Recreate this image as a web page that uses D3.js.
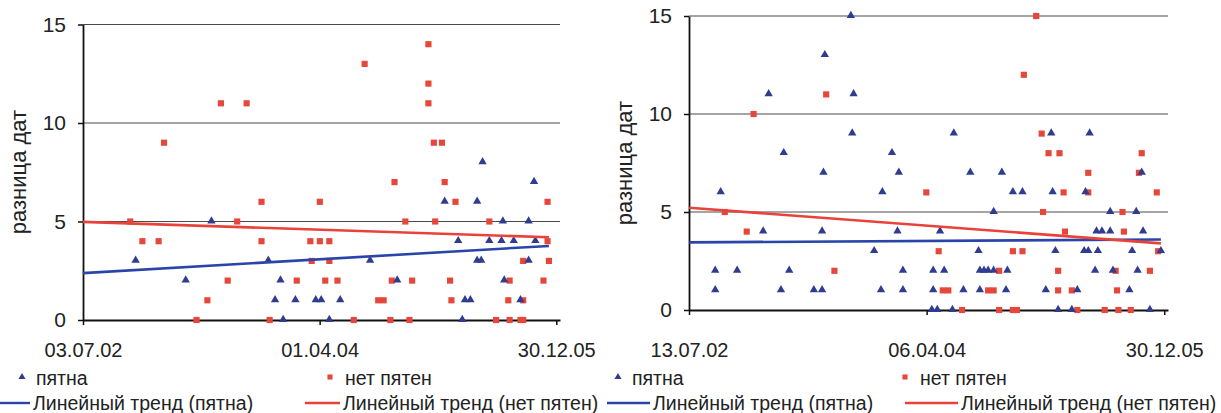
<!DOCTYPE html>
<html>
<head>
<meta charset="utf-8">
<script src="https://cdn.jsdelivr.net/npm/d3@7"></script>
<style>
  body { margin: 0; background: #fff; }
  text { font-family: "Liberation Sans", Arial, sans-serif; fill: #222; }
</style>
</head>
<body>
<svg id="chart" width="1221" height="413"></svg>
<script>
// ---- data (x = decimal year, y = difference of dates) ----
var leftTicks = ["03.07.02", "01.04.04", "30.12.05"];
var rightTicks = ["13.07.02", "06.04.04", "30.12.05"];
var yTicks = [0, 5, 10, 15];

var leftSpots = [[2002.89,3],[2003.26,2],[2003.45,5],[2003.87,3],[2003.92,1],[2003.96,2],[2003.98,0],[2004.07,1],
  [2004.22,1],[2004.26,1],[2004.32,0],[2004.40,1],[2004.62,3],[2004.82,2],[2005.17,6],[2005.27,4],[2005.30,0],
  [2005.32,1],[2005.36,1],[2005.41,3],[2005.41,6],[2005.44,3],[2005.45,8],[2005.50,4],[2005.59,4],[2005.60,5],
  [2005.61,2],[2005.68,4],[2005.73,1],[2005.79,5],[2005.79,3],[2005.83,7],[2005.84,4]];

var leftNoSpots = [[2002.85,5],[2002.94,4],[2003.06,4],[2003.10,9],[2003.34,0],[2003.42,1],[2003.52,11],[2003.57,2],
  [2003.64,5],[2003.71,11],[2003.82,4],[2003.82,6],[2003.88,0],[2004.08,2],[2004.18,4],[2004.19,3],[2004.25,6],
  [2004.25,4],[2004.29,2],[2004.32,4],[2004.32,3],[2004.38,2],[2004.50,0],[2004.58,13],[2004.68,1],[2004.72,1],
  [2004.77,0],[2004.78,2],[2004.80,7],[2004.88,5],[2004.91,0],[2004.93,2],[2005.05,14],[2005.05,12],[2005.05,11],
  [2005.09,9],[2005.10,5],[2005.15,9],[2005.17,7],[2005.21,2],[2005.22,1],[2005.25,6],[2005.50,5],[2005.55,0],
  [2005.64,1],[2005.65,2],[2005.65,0],[2005.73,0],[2005.75,1],[2005.75,3],[2005.75,0],[2005.90,2],[2005.93,6],
  [2005.93,4],[2005.94,3]];

var rightSpots = [[2002.72,2],[2002.72,1],[2002.76,6],[2002.88,2],[2003.07,4],[2003.11,11],[2003.20,1],[2003.22,8],
  [2003.26,2],[2003.44,1],[2003.50,1],[2003.50,4],[2003.51,7],[2003.52,13],[2003.71,15],[2003.72,9],[2003.73,11],
  [2003.88,3],[2003.93,1],[2003.94,6],[2004.01,8],[2004.05,4],[2004.06,7],[2004.09,1],[2004.09,2],[2004.30,0],
  [2004.31,2],[2004.31,1],[2004.34,0],[2004.36,4],[2004.39,2],[2004.45,0],[2004.46,9],[2004.53,1],[2004.58,7],
  [2004.64,3],[2004.65,2],[2004.65,1],[2004.68,2],[2004.71,2],[2004.75,2],[2004.75,5],[2004.81,7],[2004.84,1],
  [2004.85,2],[2004.89,6],[2004.96,6],[2005.13,1],[2005.17,9],[2005.18,6],[2005.20,3],[2005.22,0],[2005.32,0],
  [2005.36,1],[2005.41,3],[2005.42,6],[2005.44,3],[2005.45,9],[2005.49,2],[2005.50,4],[2005.51,3],[2005.54,4],
  [2005.60,5],[2005.60,4],[2005.62,2],[2005.74,1],[2005.76,3],[2005.79,5],[2005.80,2],[2005.83,7],[2005.84,4],
  [2005.89,0],[2005.97,3]];

var rightNoSpots = [[2002.79,5],[2002.95,4],[2003.00,10],[2003.53,11],[2003.59,2],[2004.26,6],[2004.35,3],[2004.38,1],
  [2004.42,1],[2004.52,0],[2004.71,1],[2004.75,1],[2004.79,0],[2004.79,2],[2004.89,3],[2004.89,0],[2004.92,0],
  [2004.96,3],[2004.97,12],[2005.06,15],[2005.10,9],[2005.11,5],[2005.15,8],[2005.22,1],[2005.22,2],[2005.23,8],
  [2005.26,6],[2005.27,4],[2005.32,1],[2005.36,0],[2005.44,7],[2005.44,6],[2005.56,0],[2005.64,2],[2005.65,1],
  [2005.66,0],[2005.69,5],[2005.70,4],[2005.75,0],[2005.81,7],[2005.83,8],[2005.89,2],[2005.94,6],[2005.95,3]];

// linear trend end points
var leftTrendSpots = [[2002.50,2.38],[2005.94,3.76]];
var leftTrendNoSpots = [[2002.50,4.98],[2005.94,4.2]];
var rightTrendSpots = [[2002.53,3.45],[2005.97,3.6]];
var rightTrendNoSpots = [[2002.53,5.22],[2005.97,3.4]];

var legendLabels = ["пятна", "нет пятен", "Линейный тренд (пятна)", "Линейный тренд (нет пятен)"];
var yTitle = "разница дат";

// ---- drawing ----
var svg = d3.select("#chart");
var parseTick = d3.utcParse("%d.%m.%y");

function yearToDate(y) {
    var yr = Math.floor(y);
    var s = Date.UTC(yr, 0, 1), e = Date.UTC(yr + 1, 0, 1);
    return new Date(s + (y - yr) * (e - s));
}

var blueMark = "#2f3c8f", redMark = "#e5473b";
var blueLine = "#2a45a8", redLine = "#e8433a";

function drawPanel(p) {
    var g = svg.append("g");
    var tickDates = p.ticks.map(parseTick);

    var x = d3.scaleUtc()
        .domain([tickDates[0], d3.utcDay.offset(tickDates[tickDates.length - 1], 10)])
        .range([p.left, p.right]);
    var y = d3.scaleLinear().domain([0, 15]).range([p.bottom, p.top]);

    // horizontal grid
    g.append("g").selectAll("line")
        .data(yTicks.slice(1))
        .join("line")
        .attr("x1", p.left).attr("x2", p.right)
        .attr("y1", function(d) { return y(d); })
        .attr("y2", function(d) { return y(d); })
        .attr("stroke", "#4a4a4a").attr("stroke-width", 1);

    var yAxis = g.append("g")
        .attr("transform", "translate(" + p.left + ",0)")
        .call(d3.axisLeft(y).tickValues(yTicks).tickSize(5).tickSizeOuter(0).tickPadding(12));
    var xAxis = g.append("g")
        .attr("transform", "translate(0," + p.bottom + ")")
        .call(d3.axisBottom(x).tickValues(tickDates)
            .tickFormat(function(d, i) { return p.ticks[i]; })
            .tickSize(5).tickSizeOuter(0).tickPadding(p.xPad));

    [yAxis, xAxis].forEach(function(a) {
        a.select(".domain").attr("stroke", "#111").attr("stroke-width", 1.8);
        a.selectAll(".tick line").attr("stroke", "#111").attr("stroke-width", 1.5);
        a.selectAll(".tick text").attr("font-size", 21).attr("fill", "#222");
    });
    xAxis.selectAll(".tick text").attr("font-size", 20);

    g.append("text")
        .attr("transform", "translate(" + p.titleX + "," + p.titleY + ") rotate(-90)")
        .attr("text-anchor", "middle")
        .attr("font-size", 22)
        .text(yTitle);

    var px = function(d) { return x(yearToDate(d[0])); };
    var py = function(d) { return y(d[1]); };

    g.append("g").selectAll("path")
        .data(p.noSpots)
        .join("path")
        .attr("d", d3.symbol(d3.symbolSquare, 38))
        .attr("transform", function(d) { return "translate(" + px(d) + "," + py(d) + ")"; })
        .attr("fill", redMark);

    g.append("g").selectAll("path")
        .data(p.spots)
        .join("path")
        .attr("d", d3.symbol(d3.symbolTriangle, 30))
        .attr("transform", function(d) { return "translate(" + px(d) + "," + (py(d) - 0.5) + ")"; })
        .attr("fill", blueMark);

    var line = d3.line().x(px).y(py);
    g.append("path").datum(p.trendSpots)
        .attr("d", line).attr("fill", "none")
        .attr("stroke", blueLine).attr("stroke-width", 2.6);
    g.append("path").datum(p.trendNoSpots)
        .attr("d", line).attr("fill", "none")
        .attr("stroke", redLine).attr("stroke-width", 2.6);

    // legend
    var lg = g.append("g").attr("font-size", 19.5);
    lg.append("path")
        .attr("d", d3.symbol(d3.symbolTriangle, 22))
        .attr("transform", "translate(" + p.leg[0] + ",377)")
        .attr("fill", blueMark);
    lg.append("text").attr("x", p.leg[0] + 14).attr("y", 385).text(legendLabels[0]);
    lg.append("path")
        .attr("d", d3.symbol(d3.symbolSquare, 26))
        .attr("transform", "translate(" + p.leg[1] + ",377)")
        .attr("fill", redMark);
    lg.append("text").attr("x", p.leg[1] + 15).attr("y", 385).text(legendLabels[1]);

    lg.append("line")
        .attr("x1", p.leg[2]).attr("x2", p.leg[3]).attr("y1", 403).attr("y2", 403)
        .attr("stroke", blueLine).attr("stroke-width", 2.4);
    lg.append("text").attr("x", p.leg[3] + 3).attr("y", 410).text(legendLabels[2]);
    lg.append("line")
        .attr("x1", p.leg[4]).attr("x2", p.leg[5]).attr("y1", 403).attr("y2", 403)
        .attr("stroke", redLine).attr("stroke-width", 2.4);
    lg.append("text").attr("x", p.leg[5] + 3).attr("y", 410).text(legendLabels[3]);
}

drawPanel({
    left: 83, right: 560, top: 24.5, bottom: 320, xPad: 18,
    titleX: 26, titleY: 172,
    ticks: leftTicks, spots: leftSpots, noSpots: leftNoSpots,
    trendSpots: leftTrendSpots, trendNoSpots: leftTrendNoSpots,
    leg: [22, 330, 0, 30, 305, 340]
});

drawPanel({
    left: 689, right: 1168, top: 16, bottom: 310, xPad: 28,
    titleX: 632, titleY: 163,
    ticks: rightTicks, spots: rightSpots, noSpots: rightNoSpots,
    trendSpots: rightTrendSpots, trendNoSpots: rightTrendNoSpots,
    leg: [618, 905, 607, 650, 905, 958]
});
</script>
</body>
</html>
